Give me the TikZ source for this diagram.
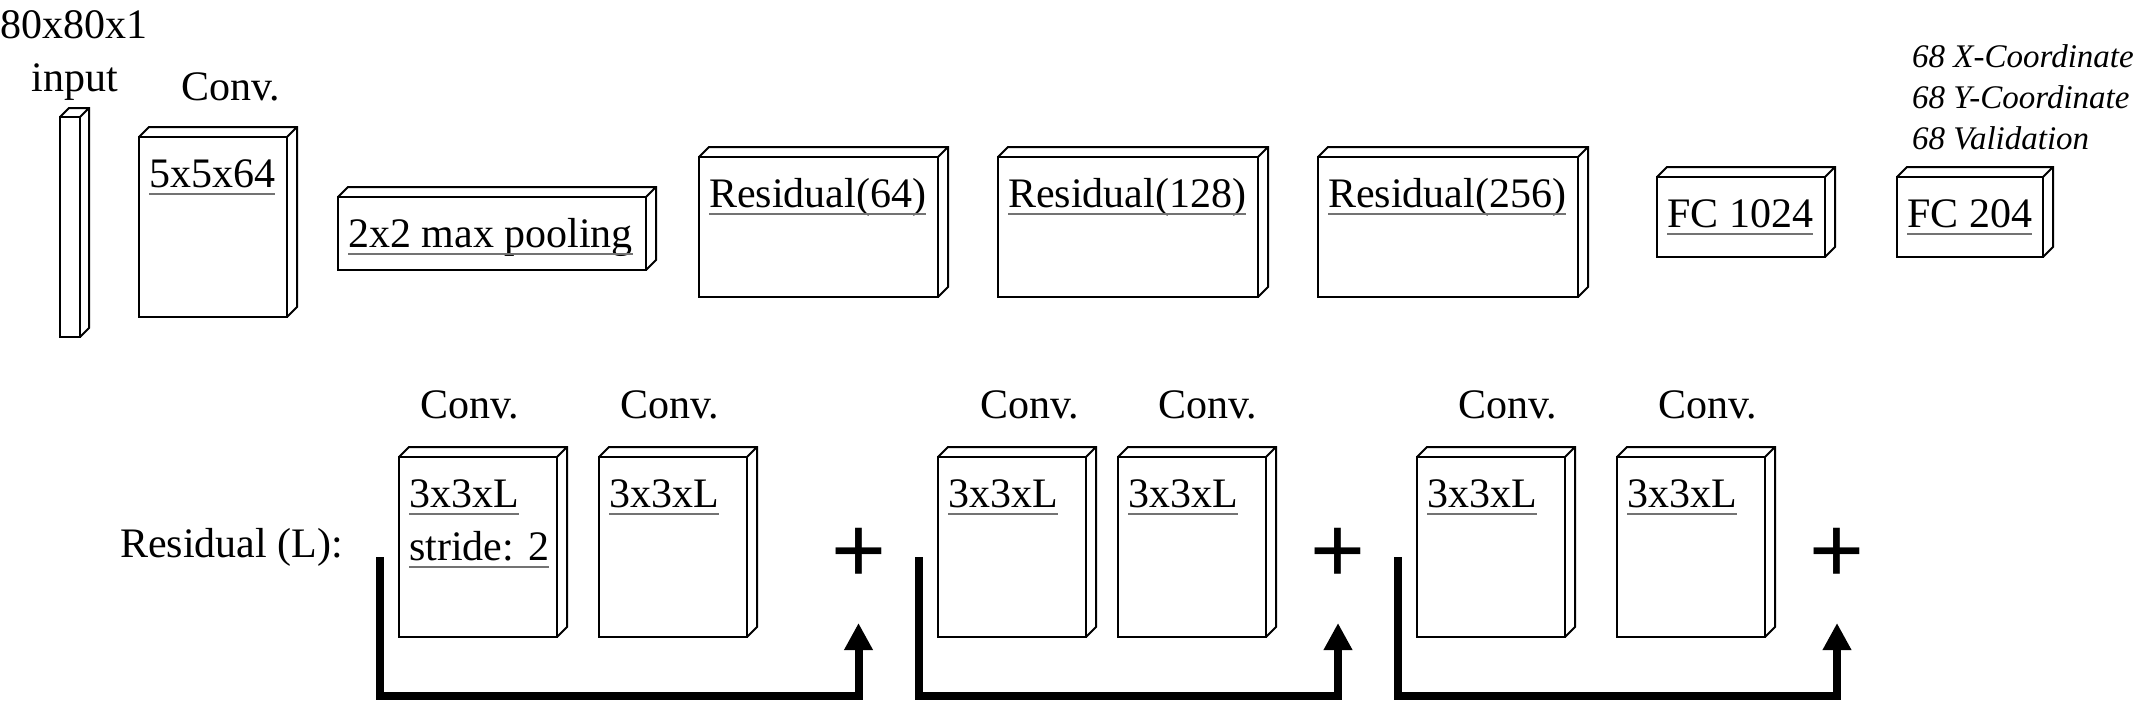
\documentclass[tikz,border=0pt]{standalone}
\usepackage{fontspec}
\setmainfont{Liberation Serif}
\newfontfamily\plusfont{Liberation Sans}
\usetikzlibrary{arrows.meta,positioning}
\tikzset{
  layer/.style={draw,line width=2pt,fill=white,inner sep=0pt,outer sep=0pt},
  face/.style={line width=2pt,line join=miter},
  tag/.style={anchor=base west,inner sep=0pt,font=\fontsize{42}{50}\selectfont},
  tagat/.style={at={([shift={(10pt,-50pt)}]#1.north west)}},
  title/.style={anchor=base,inner sep=0pt,font=\fontsize{42}{50}\selectfont},
  uline/.style={draw=black!55,line width=1.3pt},
  note/.style={anchor=base west,inner sep=0pt,font=\fontsize{33}{41}\selectfont\itshape},
  sumsign/.style={inner sep=0pt,font=\plusfont\fontsize{94}{94}\selectfont},
  skip/.style={line width=8pt,line join=miter,-{Triangle[length=27pt,width=27pt]}},
}

\begin{document}
\begin{tikzpicture}[x=1pt,y=-1pt]
  \useasboundingbox (0,0) rectangle (2140,701);
  \node[layer,minimum width=20pt,minimum height=220pt] (inp) at (70,227) {};
  \node[layer,minimum width=148pt,minimum height=180pt,right=59pt of inp] (conv) {};
  \node[layer,minimum width=308pt,minimum height=73pt,right=51pt of conv,yshift=-6.5pt] (pool) {};
  \node[layer,minimum width=239pt,minimum height=140pt,right=53pt of pool,yshift=6.5pt] (res64) {};
  \node[layer,minimum width=260pt,minimum height=140pt,right=60pt of res64] (res128) {};
  \node[layer,minimum width=260pt,minimum height=140pt,right=60pt of res128] (res256) {};
  \node[layer,minimum width=168pt,minimum height=80pt,right=79pt of res256,yshift=10pt] (fc1024) {};
  \node[layer,minimum width=146pt,minimum height=80pt,right=72pt of fc1024] (fc204) {};

  \node[layer,minimum width=158pt,minimum height=180pt] (c1a) at (478,547) {};
  \node[layer,minimum width=148pt,minimum height=180pt,right=42pt of c1a] (c1b) {};
  \node[layer,minimum width=148pt,minimum height=180pt] (c2a) at (1012,547) {};
  \node[layer,minimum width=148pt,minimum height=180pt,right=32pt of c2a] (c2b) {};
  \node[layer,minimum width=148pt,minimum height=180pt] (c3a) at (1491,547) {};
  \node[layer,minimum width=148pt,minimum height=180pt,right=52pt of c3a] (c3b) {};

  \foreach \b/\d in {inp/9pt,conv/10pt,pool/10pt,res64/10pt,res128/10pt,res256/10pt,
      fc1024/10pt,fc204/10pt,c1a/10pt,c1b/10pt,c2a/10pt,c2b/10pt,c3a/10pt,c3b/10pt}
    \draw[face] (\b.north west) -- ++(\d,\d) -- ([shift={(\d,\d)}]\b.north east)
      -- ([shift={(\d,\d)}]\b.south east) -- (\b.south east)
      (\b.north east) -- ++(\d,\d);

  \node[tag,tagat=conv] (tconv) {5x5x64};
  \node[tag,tagat=pool] (tpool) {2x2 max pooling};
  \node[tag,tagat=res64] (tres64) {Residual(64)};
  \node[tag,tagat=res128] (tres128) {Residual(128)};
  \node[tag,tagat=res256] (tres256) {Residual(256)};
  \node[tag,tagat=fc1024] (tfc1024) {FC 1024};
  \node[tag,tagat=fc204] (tfc204) {FC 204};
  \node[tag,tagat=c1a] (tc1a) {3x3xL};
  \node[tag] (tstride) at ([yshift=-53pt]tc1a.base west) {stride: 2};
  \node[tag,tagat=c1b] (tc1b) {3x3xL};
  \node[tag,tagat=c2a] (tc2a) {3x3xL};
  \node[tag,tagat=c2b] (tc2b) {3x3xL};
  \node[tag,tagat=c3a] (tc3a) {3x3xL};
  \node[tag,tagat=c3b] (tc3b) {3x3xL};
  \foreach \t in {tconv,tpool,tres64,tres128,tres256,tfc1024,tfc204,
      tc1a,tstride,tc1b,tc2a,tc2b,tc3a,tc3b}
    \draw[uline] ([yshift=-7pt]\t.base west) -- ([yshift=-7pt]\t.base east);

  \node[tag] (dims) at (0,38) {80x80x1};
  \node[title] (linp) at ([shift={(5pt,25pt)}]inp.north) {input};
  \node[title] (lconv) at ([shift={(18pt,37pt)}]conv.north) {Conv.};
  \node[title] (lc1a) at ([shift={(-8pt,39pt)}]c1a.north) {Conv.};
  \node[title] (lc1b) at ([shift={(-3pt,39pt)}]c1b.north) {Conv.};
  \node[title] (lc2a) at ([shift={(18pt,39pt)}]c2a.north) {Conv.};
  \node[title] (lc2b) at ([shift={(16pt,39pt)}]c2b.north) {Conv.};
  \node[title] (lc3a) at ([shift={(17pt,39pt)}]c3a.north) {Conv.};
  \node[title] (lc3b) at ([shift={(17pt,39pt)}]c3b.north) {Conv.};
  \node[tag] (lres) at (120,557) {Residual (L):};

  \node[note] (out1) at (1912,67) {68 X-Coordinate};
  \node[note] (out2) at ([yshift=-41pt]out1.base west) {68 Y-Coordinate};
  \node[note] (out3) at ([yshift=-41pt]out2.base west) {68 Validation};

  \node[sumsign] (sum1) at (858.5,555) {+};
  \node[sumsign] (sum2) at (1338,555) {+};
  \node[sumsign] (sum3) at (1837,555) {+};
  \coordinate (in1) at (380,557);
  \coordinate (in2) at (919,557);
  \coordinate (in3) at (1398,557);
  \draw[skip] (in1) -- ++(0,139) -| ([yshift=-68pt]sum1.center);
  \draw[skip] (in2) -- ++(0,139) -| ([yshift=-68pt]sum2.center);
  \draw[skip] (in3) -- ++(0,139) -| ([yshift=-68pt]sum3.center);
\end{tikzpicture}
\end{document}
